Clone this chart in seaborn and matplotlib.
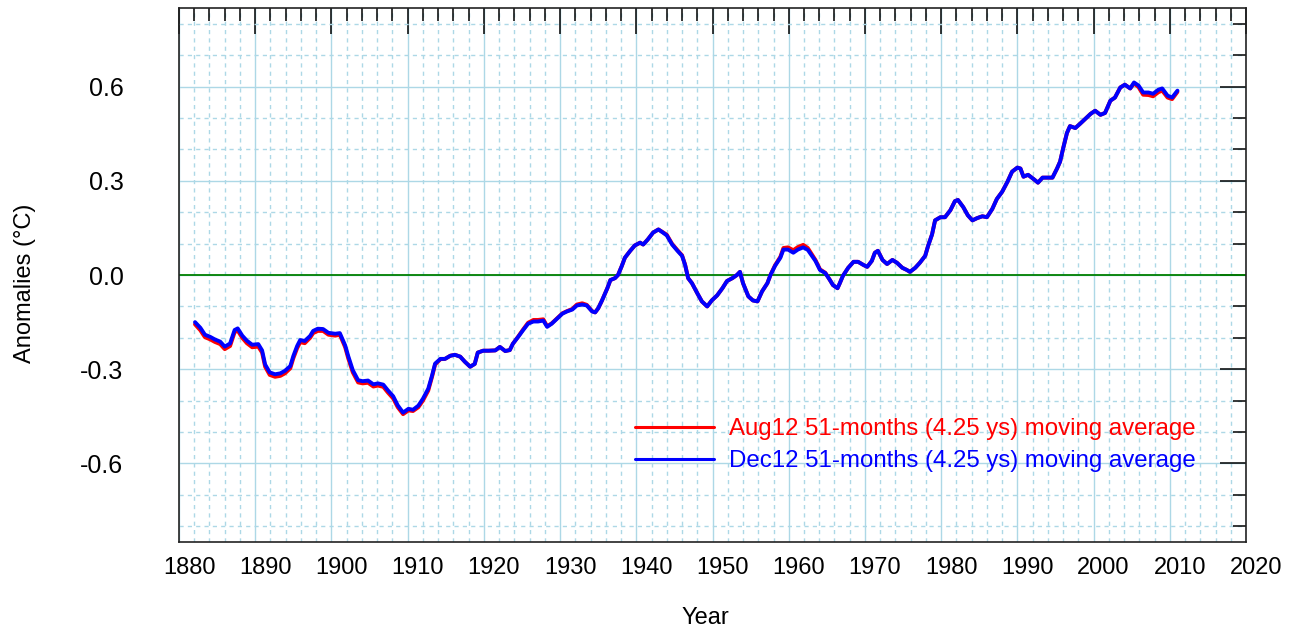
import matplotlib
matplotlib.use('Agg')
import matplotlib.pyplot as plt
import matplotlib.transforms as mtransforms
from matplotlib.ticker import MultipleLocator, FormatStrFormatter
import seaborn as sns
import pandas as pd

# values (51-month centred moving average, deg C)
years = [1882.1, 1882.8, 1883.4, 1884.1, 1884.7, 1885.4, 1886.0, 1886.7, 1887.3, 1887.7,
         1888.3, 1888.9, 1889.6, 1890.4, 1890.9, 1891.3, 1891.9, 1892.6, 1893.3, 1893.9,
         1894.6, 1895.0, 1895.5, 1895.9, 1896.5, 1897.2, 1897.6, 1898.2, 1898.9, 1899.6,
         1900.5, 1901.1, 1901.8, 1902.2, 1902.8, 1903.5, 1904.1, 1904.8, 1905.5, 1906.1,
         1906.8, 1907.4, 1908.1, 1908.7, 1909.4, 1910.1, 1910.7, 1911.4, 1912.0, 1912.7,
         1913.2, 1913.6, 1914.3, 1914.9, 1915.6, 1916.2, 1916.9, 1917.5, 1918.2, 1918.8,
         1919.2, 1919.9, 1920.6, 1921.5, 1922.1, 1922.8, 1923.4, 1923.8, 1924.5, 1925.1,
         1925.8, 1926.5, 1927.1, 1927.8, 1928.3, 1928.9, 1929.6, 1930.3, 1930.9, 1931.6,
         1932.2, 1932.9, 1933.5, 1934.2, 1934.6, 1935.0, 1935.5, 1936.2, 1936.6, 1937.2,
         1937.6, 1938.1, 1938.5, 1939.2, 1939.8, 1940.5, 1940.9, 1941.5, 1942.2, 1942.9,
         1943.5, 1944.0, 1944.7, 1945.4, 1946.0, 1946.4, 1946.8, 1947.3, 1948.0, 1948.6,
         1949.3, 1949.9, 1950.6, 1951.3, 1951.9, 1952.6, 1953.2, 1953.6, 1954.0, 1954.7,
         1955.3, 1955.9, 1956.5, 1957.2, 1957.6, 1958.2, 1958.9, 1959.3, 1959.9, 1960.6,
         1961.2, 1961.9, 1962.5, 1963.5, 1964.1, 1964.8, 1965.4, 1965.8, 1966.4, 1966.7,
         1967.1, 1967.8, 1968.5, 1969.1, 1969.8, 1970.3, 1970.9, 1971.3, 1971.7, 1972.3,
         1972.9, 1973.6, 1974.2, 1974.9, 1975.5, 1975.9, 1976.6, 1977.2, 1977.9, 1978.3,
         1978.8, 1979.2, 1979.9, 1980.5, 1981.2, 1981.8, 1982.2, 1982.9, 1983.5, 1984.1,
         1984.7, 1985.4, 1986.0, 1986.7, 1987.3, 1988.0, 1988.7, 1989.3, 1990.0, 1990.4,
         1990.8, 1991.4, 1992.1, 1992.7, 1993.3, 1993.9, 1994.6, 1995.2, 1995.6, 1996.0,
         1996.5, 1996.9, 1997.6, 1998.2, 1998.9, 1999.6, 2000.2, 2000.9, 2001.5, 2002.2,
         2002.8, 2003.5, 2004.1, 2004.8, 2005.3, 2005.9, 2006.5, 2007.2, 2007.8, 2008.5,
         2009.0, 2009.7, 2010.3, 2011.0]

dec12 = [-0.150, -0.168, -0.190, -0.197, -0.205, -0.212, -0.228, -0.218, -0.175, -0.170,
         -0.193, -0.209, -0.222, -0.220, -0.240, -0.285, -0.310, -0.316, -0.313, -0.305,
         -0.290, -0.258, -0.226, -0.207, -0.210, -0.194, -0.178, -0.171, -0.172, -0.184,
         -0.187, -0.185, -0.224, -0.258, -0.303, -0.335, -0.338, -0.336, -0.348, -0.345,
         -0.349, -0.367, -0.386, -0.415, -0.438, -0.426, -0.429, -0.416, -0.394, -0.362,
         -0.320, -0.282, -0.267, -0.267, -0.257, -0.254, -0.260, -0.276, -0.292, -0.283,
         -0.247, -0.241, -0.241, -0.240, -0.229, -0.242, -0.239, -0.219, -0.197, -0.177,
         -0.155, -0.148, -0.148, -0.145, -0.165, -0.155, -0.139, -0.123, -0.116, -0.110,
         -0.097, -0.094, -0.097, -0.116, -0.119, -0.106, -0.081, -0.042, -0.016, -0.010,
         0.000, 0.029, 0.055, 0.077, 0.094, 0.103, 0.097, 0.113, 0.135, 0.145,
         0.135, 0.126, 0.097, 0.077, 0.061, 0.032, -0.010, -0.026, -0.058, -0.084,
         -0.100, -0.081, -0.065, -0.042, -0.019, -0.010, 0.000, 0.010, -0.026, -0.068,
         -0.081, -0.084, -0.052, -0.026, 0.000, 0.029, 0.055, 0.081, 0.081, 0.071,
         0.081, 0.088, 0.080, 0.045, 0.016, 0.006, -0.016, -0.032, -0.042, -0.026,
         -0.003, 0.023, 0.042, 0.042, 0.032, 0.026, 0.045, 0.071, 0.077, 0.048,
         0.035, 0.048, 0.039, 0.023, 0.016, 0.010, 0.023, 0.039, 0.061, 0.094,
         0.129, 0.174, 0.184, 0.184, 0.206, 0.235, 0.239, 0.216, 0.190, 0.174,
         0.181, 0.187, 0.184, 0.210, 0.242, 0.265, 0.297, 0.329, 0.342, 0.339,
         0.313, 0.319, 0.306, 0.294, 0.310, 0.310, 0.310, 0.339, 0.361, 0.403,
         0.452, 0.474, 0.468, 0.481, 0.497, 0.513, 0.523, 0.510, 0.516, 0.555,
         0.565, 0.597, 0.606, 0.594, 0.613, 0.603, 0.581, 0.581, 0.577, 0.590,
         0.594, 0.571, 0.565, 0.587]

aug12 = [-0.157, -0.176, -0.198, -0.205, -0.213, -0.220, -0.236, -0.226, -0.182, -0.177,
         -0.200, -0.217, -0.230, -0.228, -0.247, -0.292, -0.318, -0.324, -0.321, -0.313,
         -0.297, -0.265, -0.233, -0.214, -0.217, -0.200, -0.185, -0.178, -0.178, -0.190,
         -0.193, -0.190, -0.230, -0.265, -0.310, -0.342, -0.345, -0.343, -0.355, -0.352,
         -0.356, -0.374, -0.393, -0.421, -0.443, -0.431, -0.433, -0.421, -0.400, -0.368,
         -0.324, -0.285, -0.268, -0.267, -0.257, -0.254, -0.260, -0.276, -0.292, -0.283,
         -0.247, -0.241, -0.241, -0.240, -0.229, -0.242, -0.239, -0.219, -0.196, -0.175,
         -0.152, -0.143, -0.143, -0.141, -0.163, -0.154, -0.138, -0.122, -0.115, -0.108,
         -0.094, -0.090, -0.095, -0.115, -0.119, -0.106, -0.081, -0.042, -0.016, -0.010,
         0.000, 0.029, 0.055, 0.077, 0.094, 0.103, 0.097, 0.113, 0.135, 0.145,
         0.136, 0.128, 0.099, 0.079, 0.063, 0.033, -0.010, -0.026, -0.058, -0.084,
         -0.100, -0.081, -0.065, -0.042, -0.019, -0.010, 0.000, 0.010, -0.026, -0.068,
         -0.081, -0.084, -0.052, -0.026, 0.000, 0.031, 0.058, 0.086, 0.088, 0.079,
         0.089, 0.096, 0.086, 0.048, 0.018, 0.007, -0.016, -0.032, -0.042, -0.026,
         -0.003, 0.023, 0.042, 0.042, 0.032, 0.026, 0.045, 0.071, 0.077, 0.048,
         0.035, 0.048, 0.039, 0.023, 0.016, 0.010, 0.023, 0.039, 0.061, 0.094,
         0.129, 0.174, 0.184, 0.184, 0.206, 0.235, 0.239, 0.216, 0.190, 0.174,
         0.181, 0.187, 0.184, 0.210, 0.242, 0.265, 0.297, 0.329, 0.342, 0.339,
         0.313, 0.319, 0.306, 0.294, 0.310, 0.310, 0.310, 0.339, 0.361, 0.403,
         0.452, 0.474, 0.468, 0.481, 0.497, 0.513, 0.523, 0.510, 0.516, 0.555,
         0.565, 0.597, 0.606, 0.594, 0.610, 0.598, 0.574, 0.573, 0.569, 0.582,
         0.587, 0.565, 0.560, 0.583]

label_aug = 'Aug12 51-months (4.25 ys) moving average'
label_dec = 'Dec12 51-months (4.25 ys) moving average'

sns.set_style('white')
plt.rcParams['font.family'] = ['Liberation Sans', 'DejaVu Sans']
plt.rcParams['axes.unicode_minus'] = False
plt.rcParams['text.color'] = 'black'
plt.rcParams['axes.labelcolor'] = 'black'
plt.rcParams['xtick.color'] = 'black'
plt.rcParams['ytick.color'] = 'black'

fig = plt.figure(figsize=(13, 6.32), dpi=100)
ax = fig.add_axes([0.1377, 0.1424, 0.8208, 0.8449])

df = pd.DataFrame({'year': years, 'aug': aug12, 'dec': dec12})
sns.lineplot(data=df, x='year', y='aug', color='red', lw=2.8, estimator=None,
             label=label_aug, ax=ax, zorder=3)
sns.lineplot(data=df, x='year', y='dec', color='blue', lw=2.8, estimator=None,
             label=label_dec, ax=ax, zorder=4)

ax.axhline(0, color='green', lw=1.3, zorder=2)

ax.set_xlim(1880, 2020)
ax.set_ylim(-0.85, 0.85)
ax.xaxis.set_major_locator(MultipleLocator(10))
ax.xaxis.set_minor_locator(MultipleLocator(2))
ax.yaxis.set_major_locator(MultipleLocator(0.3))
ax.yaxis.set_minor_locator(MultipleLocator(0.1))
ax.yaxis.set_major_formatter(FormatStrFormatter('%.1f'))

ax.grid(which='major', color='#add8e6', lw=1.0, ls='-', zorder=0)
ax.grid(which='minor', color='#add8e6', lw=1.0, ls=(0, (3, 3)), zorder=0)
ax.set_axisbelow(True)

ax.tick_params(which='both', direction='in', top=True, right=True,
               color='black', labelcolor='black', width=1.1)
ax.tick_params(which='major', length=18.7)
ax.tick_params(which='minor', length=9.4)
ax.tick_params(axis='x', which='major', pad=11, labelsize=17)
ax.tick_params(axis='y', which='major', pad=40, labelsize=18)
for s in ax.spines.values():
    s.set_color('#222222')
    s.set_linewidth(1.2)

# x labels sit a little right of their ticks in the reference
shift = mtransforms.ScaledTranslation(10 / 100, 0, fig.dpi_scale_trans)
for lab in ax.get_xticklabels():
    lab.set_transform(lab.get_transform() + shift)

ax.set_xlabel('Year', fontsize=17, color='black')
ax.set_ylabel('Anomalies (°C)', fontsize=17, color='black')
ax.xaxis.set_label_coords(0.493, -0.122)
ax.yaxis.set_label_coords(-0.134, 0.485)

leg = ax.legend(loc='upper left', bbox_to_anchor=(0.4274, 0.232), frameon=False,
                fontsize=17.3, labelcolor='linecolor', borderpad=0, borderaxespad=0,
                handlelength=3.3, handletextpad=0.6, labelspacing=0.42)
for ln in leg.get_lines():
    ln.set_linewidth(2.2)

fig.savefig('out.png', dpi=100)
